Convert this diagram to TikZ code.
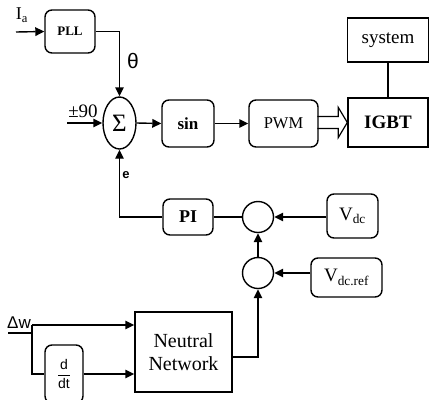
\documentclass[tikz,border=0pt]{standalone}
\usepackage{fontspec}
\setmainfont{Liberation Serif}
\setsansfont{Liberation Sans}
\usetikzlibrary{positioning,arrows.meta,shapes.geometric}

\begin{document}
\begin{tikzpicture}[x=1pt,y=-1pt,line width=1.4pt,
  >={Triangle[length=9pt,width=8.5pt]},
  bloc/.style={draw, rounded corners=7pt, inner sep=0pt},
  carre/.style={draw, inner sep=0pt},
  rond/.style={draw, circle, minimum size=31pt, inner sep=0pt}]
  \useasboundingbox (0,0) rectangle (430,399);

  % Blocs du haut
  \node[bloc, minimum width=50pt, minimum height=43pt, font=\fontsize{13}{15}\selectfont\bfseries] (pll) at (70,31.5) {PLL};
  \node[draw, ellipse, minimum width=33pt, minimum height=52pt, inner sep=0pt, font=\fontsize{25}{27}\selectfont] (somme) at (119.5,123) {Σ};
  \node[bloc, minimum width=52pt, minimum height=47pt, font=\fontsize{17}{19}\selectfont\bfseries] (sinus) at (188,123.5) {sin};
  \node[bloc, minimum width=69pt, minimum height=47pt, font=\fontsize{16.5}{18}\selectfont] (pwm) at (283.5,123.5) {PWM};
  \node[carre, minimum width=80pt, minimum height=49pt, font=\fontsize{19}{21}\selectfont\bfseries] (igbt) at (388,122.5) {IGBT};
  \node[carre, minimum width=81pt, minimum height=44pt, font=\fontsize{19}{21}\selectfont] (systeme) at (388,40) {system};

  % Entrées et étiquettes
  \node[font=\fontsize{18}{20}\selectfont] (ia) at (22,15) {I\textsubscript{a}};
  \coordinate (entreeia) at (16,32);
  \node[font=\fontsize{19}{21}\selectfont] (plus90) at (83,111) {±90};
  \coordinate (entree90) at (67,123);
  \node[font=\sffamily\fontsize{21}{23}\selectfont] (theta) at (133,61) {θ};

  \draw[->] (entreeia) -- (pll.west);
  \draw[->] (pll.east) -| (somme.north);
  \draw[->] (entree90) -- (somme.west);
  \draw[->] (somme.east) -- (sinus.west);
  \draw[->] (sinus.east) -- (pwm.west);
  \draw (systeme.south) -- (igbt.north);

  % Flèche creuse PWM -> IGBT
  \coordinate (pointe) at (igbt.west);
  \draw[line width=1.2pt] (pointe) -- ++(-9,-15) -- ++(0,9) -- ++(-21,0);
  \draw[line width=1.2pt] (pointe) -- ++(-9,15) -- ++(0,-9) -- ++(-21,0);

  % Boucle de régulation
  \node[bloc, minimum width=50pt, minimum height=36pt, font=\fontsize{18}{20}\selectfont\bfseries] (pi) at (188,217) {PI};
  \node[rond] (comp1) at (258,217) {};
  \node[rond] (comp2) at (258,273) {};
  \node[bloc, minimum width=51pt, minimum height=44pt, font=\fontsize{19}{21}\selectfont] (vdc) at (352.5,216) {V\textsubscript{dc}};
  \node[bloc, minimum width=71pt, minimum height=39pt, font=\fontsize{19}{21}\selectfont] (vdcref) at (346.5,277.5) {V\textsubscript{dc.ref}};
  \node[font=\sffamily\bfseries\fontsize{13}{15}\selectfont] (e) at (126,175) {e};

  \draw[->] (pi.west) -| (somme.south);
  \draw (comp1.west) -- (pi.east);
  \draw[->] (comp1.east -| vdc.west) -- (comp1.east);
  \draw[->] (comp2.east -| vdcref.west) -- (comp2.east);
  \draw[->] (comp2.north) -- (comp1.south);

  % Réseau de neurones
  \node[carre, minimum width=97pt, minimum height=80pt, align=center, font=\fontsize{20}{23}\selectfont] (reseau) at (183.5,352) {Neutral\\Network};
  \node[bloc, minimum width=38pt, minimum height=58pt, font=\fontsize{14}{16}\selectfont] (derivee) at (64,374) {$\displaystyle\frac{\textsf{d}}{\textsf{dt}}$};
  \node[font=\sffamily\fontsize{17}{19}\selectfont] (dw) at (19,323) {Δw};
  \coordinate (entreedw) at (8,333);
  \coordinate (branche) at (32,325);

  \draw (entreedw) -- (entreedw -| branche);
  \draw[->] (branche) -- (branche -| reseau.west);
  \draw (branche) |- (derivee.west);
  \draw[->] (derivee.east) -- (derivee.east -| reseau.west);
  \draw[->] ([yshift=-5pt]reseau.east) -| (comp2.south);

\end{tikzpicture}
\end{document}
